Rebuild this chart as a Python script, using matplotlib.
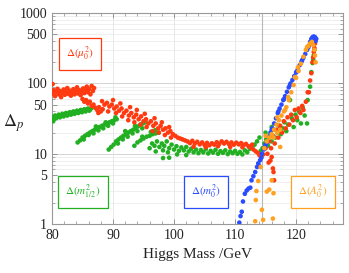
import matplotlib
matplotlib.use("Agg")
import matplotlib.pyplot as plt
import numpy as np
from matplotlib.ticker import FixedLocator, NullFormatter

# (Higgs mass / GeV, fine-tuning Delta_p)
mu_points = [
    (80.1, 98), (80.1, 72), (80.3, 80), (80.5, 66), (80.7, 75), (80.9, 84), (81.1, 70), (81.3, 78),
    (81.5, 64), (81.7, 73), (81.9, 82), (82.1, 69), (82.3, 76), (82.5, 86), (82.7, 71), (82.9, 79),
    (83.1, 67), (83.3, 74), (83.5, 83), (83.7, 70), (83.9, 78), (84.1, 88), (84.3, 72), (84.5, 80),
    (84.7, 68), (84.9, 76), (85.1, 85), (85.3, 73), (85.5, 81), (85.7, 90), (85.9, 75), (86.1, 83),
    (86.3, 70), (86.5, 92), (86.7, 78), (86.9, 86),
    (85.0, 60), (85.3, 55), (85.6, 58), (85.9, 52), (86.2, 55), (86.5, 48), (86.8, 50), (87.1, 45),
    (87.4, 42), (87.7, 46), (88.0, 40), (88.3, 43), (87.6, 38),
    (88.2, 56), (88.6, 50), (89.0, 53), (89.4, 47), (89.8, 50), (90.2, 44), (90.6, 47), (91.0, 41),
    (91.4, 44), (91.8, 38), (92.2, 41), (92.6, 35), (93.0, 38), (93.4, 33), (93.8, 36), (94.2, 31),
    (94.6, 34), (95.0, 29), (95.4, 31), (95.8, 27), (96.2, 29), (96.6, 25), (97.0, 27), (97.4, 23),
    (97.8, 25), (98.2, 22), (98.6, 23), (99.0, 20), (99.4, 21), (99.8, 19), (100.2, 18), (100.6, 17),
    (101.0, 16.5), (101.4, 16), (101.8, 15.5),
    (89.2, 40), (90.5, 38), (91.5, 34), (92.5, 30), (93.5, 28), (94.5, 26), (95.5, 24), (96.5, 21),
    (97.5, 20), (98.5, 18.5), (99.5, 17), (90.0, 58), (91.2, 52), (92.8, 46), (93.9, 42), (95.2, 37),
    (96.8, 32), (98.0, 28), (99.2, 24),
    (102.2, 15), (102.6, 14.2), (103.0, 15.3), (103.4, 14), (103.8, 14.8), (104.2, 13.6), (104.6, 14.5),
    (105.0, 13.4), (105.4, 14.3), (105.8, 13.2), (106.2, 14.1), (106.6, 13.5), (107.0, 14.6),
    (107.4, 13.8), (107.8, 15), (108.2, 14), (108.6, 14.8), (109.0, 13.7), (109.4, 14.5), (109.8, 13.5),
    (110.2, 14.4), (110.6, 13.6), (111.0, 14.2), (111.4, 13.3), (111.8, 13.8), (112.2, 12.8),
    (112.6, 12.2), (113.0, 11.5), (113.4, 10.8), (113.8, 10.2), (103.2, 12.6), (105.2, 12.4),
    (107.2, 12.8), (109.2, 12.5), (111.2, 12.4), (112.8, 13.5), (114.0, 9.5), (114.3, 9.0), (114.6, 9.8),
    (115.0, 12), (115.3, 10), (115.6, 15), (115.9, 12), (116.2, 18), (116.5, 14), (116.8, 22), (117.1, 17),
    (117.4, 25), (117.7, 20), (118.0, 29), (118.3, 23), (118.6, 33), (118.9, 26), (119.2, 36), (119.5, 30),
    (119.8, 42), (120.1, 33), (120.4, 44), (120.7, 38), (121.0, 48), (121.2, 42), (121.6, 55), (121.9, 75),
    (115.5, 7.5), (115.8, 8), (116.2, 6.2), (116.3, 5.5), (116.4, 4.2), (116.0, 9),
    (122.1, 75), (122.3, 110), (122.5, 140), (122.7, 200), (122.8, 235), (122.9, 280), (123.0, 320),
    (123.1, 370),
]

m12_points = [
    (80.1, 33), (80.2, 29), (80.3, 31), (80.5, 35), (80.7, 32), (80.9, 34), (81.1, 36), (81.3, 33),
    (81.5, 35), (81.7, 37), (81.9, 34), (82.1, 36), (82.3, 38), (82.5, 35), (82.7, 37), (82.9, 39),
    (83.1, 36), (83.3, 38), (83.5, 40), (83.7, 37), (83.9, 39), (84.1, 41), (84.3, 38), (84.5, 40),
    (84.7, 42), (84.9, 39), (85.1, 41), (85.3, 43), (85.5, 40), (85.7, 42), (85.9, 44), (86.1, 41),
    (86.3, 43), (86.5, 45),
    (84.2, 14.5), (84.6, 15.5), (85.0, 17), (85.4, 18), (85.8, 19), (86.2, 20), (86.6, 21), (87.0, 22),
    (87.4, 23), (87.8, 24), (88.2, 25), (88.6, 26), (89.0, 27), (89.4, 28), (89.8, 29), (90.2, 30),
    (90.6, 31), (85.2, 16), (86.0, 18.5), (86.8, 19.5), (87.6, 21.5), (88.4, 23), (89.2, 25), (90.0, 27),
    (87.2, 24.5), (88.8, 28), (90.4, 33),
    (89.3, 11.5), (89.7, 12.5), (90.1, 13.5), (90.5, 15), (90.9, 16), (91.3, 17), (91.7, 18), (92.1, 19),
    (92.5, 20), (92.9, 21), (93.3, 22), (93.7, 23), (94.1, 24.5), (94.5, 26), (94.9, 27), (95.3, 28),
    (90.8, 14), (91.6, 16), (92.4, 17.5), (93.2, 19.5), (94.0, 21), (94.8, 23), (92.0, 21), (93.6, 25),
    (93.5, 13), (94.0, 14.5), (94.5, 15.5), (95.0, 16.5), (95.5, 17.5), (96.0, 18), (96.5, 19), (97.0, 19.5),
    (97.5, 20), (94.8, 17.5), (96.2, 20.5), (96.9, 21.6),
    (96.0, 12), (96.4, 14), (96.8, 13), (97.2, 15), (97.6, 12.5), (98.0, 14), (98.4, 13), (98.8, 15),
    (99.2, 12), (99.6, 13.5), (100.0, 11.5), (100.4, 12.8), (100.8, 11), (101.2, 12.3), (101.6, 11.2),
    (102.0, 12.5), (102.4, 10.8), (102.8, 11.8), (103.2, 10.5), (103.6, 11.5), (104.0, 10.2), (104.4, 11.3),
    (104.8, 10.5), (105.2, 11.6), (105.6, 10.1), (106.0, 11), (106.4, 10.4), (106.8, 11.4), (107.2, 10),
    (107.6, 10.9), (108.0, 10.3), (108.4, 11.2), (108.8, 9.9), (109.2, 10.8), (109.6, 10.2), (110.0, 11),
    (110.4, 10), (110.8, 10.6), (111.2, 9.8), (111.6, 11.2), (112.0, 10.5), (112.4, 11.8), (112.8, 12.5),
    (113.2, 13.5), (113.6, 15), (114.0, 17), (97.0, 10.8), (98.2, 11.2), (99.0, 10.5), (100.5, 9.8),
    (102.0, 9.6), (99.2, 8.8), (98.2, 8.7),
    (114.2, 11), (114.5, 12), (114.8, 14), (115.0, 20), (115.1, 16), (115.4, 13), (115.7, 18), (116.0, 15),
    (116.0, 24), (116.3, 22), (116.6, 17), (116.9, 20), (117.2, 25), (117.5, 19), (117.8, 23), (118.1, 28),
    (118.4, 21), (118.7, 26), (119.0, 58), (119.3, 32), (119.6, 24), (119.9, 36), (120.2, 30), (120.5, 40),
    (120.8, 27), (121.1, 45), (121.4, 35), (121.8, 27), (121.9, 58),
    (122.3, 90), (122.5, 145), (122.7, 195), (122.8, 220), (122.9, 250), (123.0, 300),
]

m0_points = [
    (110.7, 1.05), (110.9, 1.3), (111.1, 1.5), (111.3, 2.1), (111.6, 2.7), (111.9, 3.0), (112.2, 3.2),
    (112.5, 3.3), (112.7, 4.2), (113.0, 4.8), (113.3, 5.5), (113.6, 6.5), (113.8, 7.3), (114.1, 8.1),
    (114.4, 10), (114.7, 11.5), (114.9, 12.6), (115.2, 14.5), (115.5, 17.5), (115.8, 20), (116.1, 23),
    (116.4, 27), (116.7, 32), (117.0, 38), (117.3, 44), (117.6, 50), (117.9, 58), (118.2, 66), (118.5, 76),
    (118.8, 88), (119.1, 100), (119.4, 112), (119.7, 127), (120.0, 143), (120.3, 160), (120.6, 182),
    (120.9, 205), (121.2, 232), (121.5, 262), (121.8, 300), (122.1, 345), (122.3, 390), (122.5, 430),
    (122.7, 455), (122.9, 465), (123.1, 455), (123.3, 430), (123.2, 400), (123.0, 420), (122.6, 410),
    (113.9, 6.8), (114.3, 8.8), (115.0, 13.5), (116.0, 22), (117.1, 40), (118.0, 60), (119.0, 95),
    (120.1, 148), (121.0, 215), (122.0, 325),
]

a0_points = [
    (113.3, 1.1), (113.4, 2.2), (113.5, 2.95), (113.8, 4.1), (114.2, 6.5), (114.4, 1.6), (114.6, 1.15),
    (115.2, 2.9), (115.6, 3.1), (116.0, 4.2), (116.2, 1.2), (116.3, 2.75),
    (114.8, 12), (115.2, 15), (115.6, 17), (116.0, 19), (116.4, 22), (116.8, 26), (117.2, 30), (117.6, 35),
    (118.0, 40), (118.4, 46), (118.8, 58), (119.2, 75), (119.6, 95), (120.0, 120), (120.4, 150),
    (120.8, 190), (121.2, 240), (121.6, 300), (122.0, 340), (122.3, 370), (122.6, 390), (122.8, 350),
    (123.0, 300), (123.1, 250), (123.2, 200), (115.0, 18), (116.3, 17), (116.9, 33), (117.4, 22),
    (118.2, 42), (118.7, 64), (119.8, 123), (120.3, 170), (121.8, 330), (116.9, 20), (117.4, 12.5),
]

series = [
    (m12_points, "#22b022", r"$\Delta(m_{1/2}^2)$", (0.107, 0.152)),
    (mu_points, "#ff3a10", r"$\Delta(\mu_0^2)$", (0.096, 0.806)),
    (m0_points, "#2a4cff", r"$\Delta(m_0^2)$", (0.529, 0.152)),
    (a0_points, "#ffa020", r"$\Delta(A_0^2)$", (0.897, 0.152)),
]
x_ticks = [80, 90, 100, 110, 120]
y_ticks = [1, 5, 10, 50, 100, 500, 1000]
lep_bound = 114.4

plt.rcParams["font.family"] = ["Liberation Serif", "DejaVu Serif"]
plt.rcParams["mathtext.fontset"] = "stix"

fig = plt.figure(figsize=(3.49, 2.73), dpi=100)
ax = fig.add_axes([0.149, 0.179, 0.834, 0.773])
ax.set_yscale("log")
ax.set_xlim(80, 127.7)
ax.set_ylim(1, 1000)

# Mathematica-like light grid
minor_y = [m * 10 ** e for e in range(0, 3) for m in range(2, 10)]
for v in minor_y:
    ax.axhline(v, color="#ececec", lw=0.6, zorder=0)
for v in [10, 100]:
    ax.axhline(v, color="#d4d4d4", lw=0.7, zorder=0)
for v in x_ticks:
    ax.axvline(v, color="#e4e4e4", lw=0.6, zorder=0)
ax.axvline(lep_bound, color="#b8b8b8", lw=0.8, zorder=0)

for pts, col, label, pos in series:
    arr = np.array(pts)
    ax.scatter(arr[:, 0], arr[:, 1], s=11, color=col, edgecolors="none", zorder=3)
    ax.text(pos[0], pos[1], label, transform=ax.transAxes, color=col, fontsize=8,
            ha="center", va="center", zorder=5,
            bbox=dict(boxstyle="square,pad=0.65", facecolor="white", edgecolor=col, lw=0.9))

ax.xaxis.set_major_locator(FixedLocator(x_ticks))
ax.xaxis.set_minor_locator(FixedLocator(np.arange(80, 128, 2)))
ax.yaxis.set_major_locator(FixedLocator(y_ticks))
ax.yaxis.set_minor_locator(FixedLocator(minor_y))
ax.yaxis.set_minor_formatter(NullFormatter())
ax.set_yticklabels([str(v) for v in y_ticks])
ax.tick_params(which="both", direction="in", top=True, right=True, colors="#888888",
               labelcolor="#222222", labelsize=10)
ax.tick_params(which="major", length=3.5, width=0.6)
ax.tick_params(which="minor", length=2, width=0.5)
for sp in ax.spines.values():
    sp.set_color("#999999")
    sp.set_linewidth(0.8)

ax.set_xlabel("Higgs Mass /GeV", fontsize=11, color="#222222", labelpad=4)
fig.text(0.04, 0.55, r"$\Delta_p$", fontsize=13, color="#222222", ha="center", va="center")

fig.savefig("out.png", dpi=100, facecolor="white")
